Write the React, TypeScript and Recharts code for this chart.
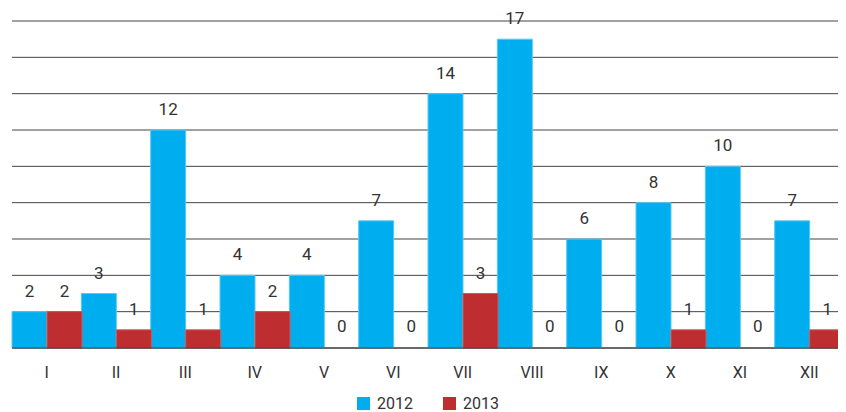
import React from "react";
import { BarChart, Bar, XAxis, YAxis, CartesianGrid, Legend, LabelList, Rectangle } from "recharts";

const months = ["I", "II", "III", "IV", "V", "VI", "VII", "VIII", "IX", "X", "XI", "XII"];
const values2012 = [2, 3, 12, 4, 4, 7, 14, 17, 6, 8, 10, 7];
const values2013 = [2, 1, 1, 2, 0, 0, 3, 0, 0, 1, 0, 1];
const yTicks = [0, 2, 4, 6, 8, 10, 12, 14, 16, 18];

const data = months.map((m, i) => ({ month: m, y2012: values2012[i], y2013: values2013[i] }));

const BLUE = "#00AEEF";
const RED = "#BE2D2F";
const TEXT = "#333333";
const FONT = "Roboto, 'Noto Sans', sans-serif";

const legendItems = [
  { label: "2012", color: BLUE },
  { label: "2013", color: RED },
];

const LegendContent = () => (
  <div style={{ display: "flex", justifyContent: "center", alignItems: "center", height: 30, fontFamily: FONT, fontSize: 16, color: TEXT }}>
    {legendItems.map((it, i) => (
      <div key={it.label} style={{ display: "flex", alignItems: "center", marginLeft: i === 0 ? 0 : 30, paddingTop: 12 }}>
        <span style={{ display: "inline-block", width: 13, height: 13, background: it.color, marginRight: 7 }} />
        <span>{it.label}</span>
      </div>
    ))}
  </div>
);

const BarShape = (props: any) => {
  if (!props.height || props.height < 1.5) return <g />;
  return <Rectangle {...props} />;
};

export default function App() {
  return (
    <BarChart
      width={838}
      height={404}
      data={data}
      margin={{ top: 13, right: 2, left: 4, bottom: 0 }}
      barCategoryGap={0}
      barGap={0}
      style={{ fontFamily: FONT }}
    >
      <CartesianGrid vertical={false} stroke="#444" strokeDasharray="" />
      <YAxis hide domain={[0, 18]} ticks={yTicks} />
      <XAxis
        dataKey="month"
        height={34}
        axisLine={{ stroke: "#333" }}
        tickLine={false}
        tickMargin={13}
        tick={{ fill: TEXT, fontSize: 16, fontFamily: FONT }}
        interval={0}
      />
      <Legend verticalAlign="bottom" height={30} content={<LegendContent />} />
      <Bar dataKey="y2012" fill={BLUE} stroke="#5CC8F2" strokeWidth={1} minPointSize={1} shape={BarShape} isAnimationActive={false}>
        <LabelList dataKey="y2012" position="top" offset={15} fill={TEXT} fontSize={17} fontFamily={FONT} />
      </Bar>
      <Bar dataKey="y2013" fill={RED} stroke="#CC5A5C" strokeWidth={1} minPointSize={1} shape={BarShape} isAnimationActive={false}>
        <LabelList dataKey="y2013" position="top" offset={15} fill={TEXT} fontSize={17} fontFamily={FONT} />
      </Bar>
    </BarChart>
  );
}
